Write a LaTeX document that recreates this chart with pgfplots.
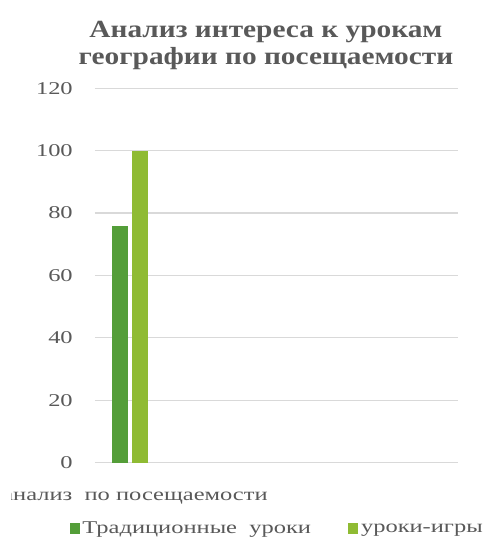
\documentclass[border=0pt]{standalone}
\usepackage{fontspec}
\setmainfont{Liberation Serif}[FakeStretch=1.36]
\newfontfamily\titlefont{Liberation Serif}[FakeStretch=1.19]
\usepackage{pgfplots}
\pgfplotsset{compat=1.18}

\definecolor{txtgray}{RGB}{89,89,89}
\definecolor{gridgray}{RGB}{217,217,217}
\definecolor{bardark}{RGB}{84,158,57}
\definecolor{barlight}{RGB}{143,187,51}

\begin{document}
\begin{tikzpicture}
\useasboundingbox (-71.25pt,-58.1pt) rectangle (293.25pt,346.9pt);
\clip (-62.25pt,-58.1pt) rectangle (293.25pt,346.9pt);
\begin{axis}[
    at={(0pt,0pt)}, anchor=south west,
    width=272.25pt, height=280.65pt,
    scale only axis,
    ybar,
    ymin=0, ymax=120,
    ytick={0,20,...,120},
    xmin=-0.5, xmax=4.686,
    xtick={0},
    xticklabels={анализ\ \ по посещаемости},
    bar width=11.5pt,
    axis line style={draw=none},
    major tick length=0pt,
    ymajorgrids,
    major grid style={draw=gridgray, line width=1pt},
    tick label style={font=\fontsize{13.5}{16}\selectfont, text=txtgray},
    yticklabel style={anchor=east, inner sep=0pt, xshift=-16.5pt},
    xticklabel style={anchor=base, inner sep=0pt, yshift=-28.1pt, xshift=3.75pt},
    /pgf/number format/assume math mode=true,
    title={Анализ интереса к урокам\\географии по посещаемости},
    title style={at={(axis description cs:0.471,1.027)}, anchor=south,
        inner sep=0pt, align=center, text=txtgray,
        font=\fontsize{18.5}{20.5}\selectfont\titlefont\bfseries},
    legend columns=2,
    legend style={at={(axis description cs:0.503,-0.177)}, anchor=center,
        draw=none, font=\fontsize{13.5}{16}\selectfont, text=txtgray,
        /tikz/every even column/.append style={column sep=26pt}},
    legend image code/.code={\fill[#1] (0pt,-4pt) rectangle (7.5pt,4pt);},
]
\addplot[fill=bardark, draw=none, bar shift=-7.5pt] coordinates {(0,76)};
\addplot[fill=barlight, draw=none, bar shift=7.5pt] coordinates {(0,100)};
\legend{Традиционные\ \ уроки, уроки-игры}
\end{axis}
\end{tikzpicture}
\end{document}
